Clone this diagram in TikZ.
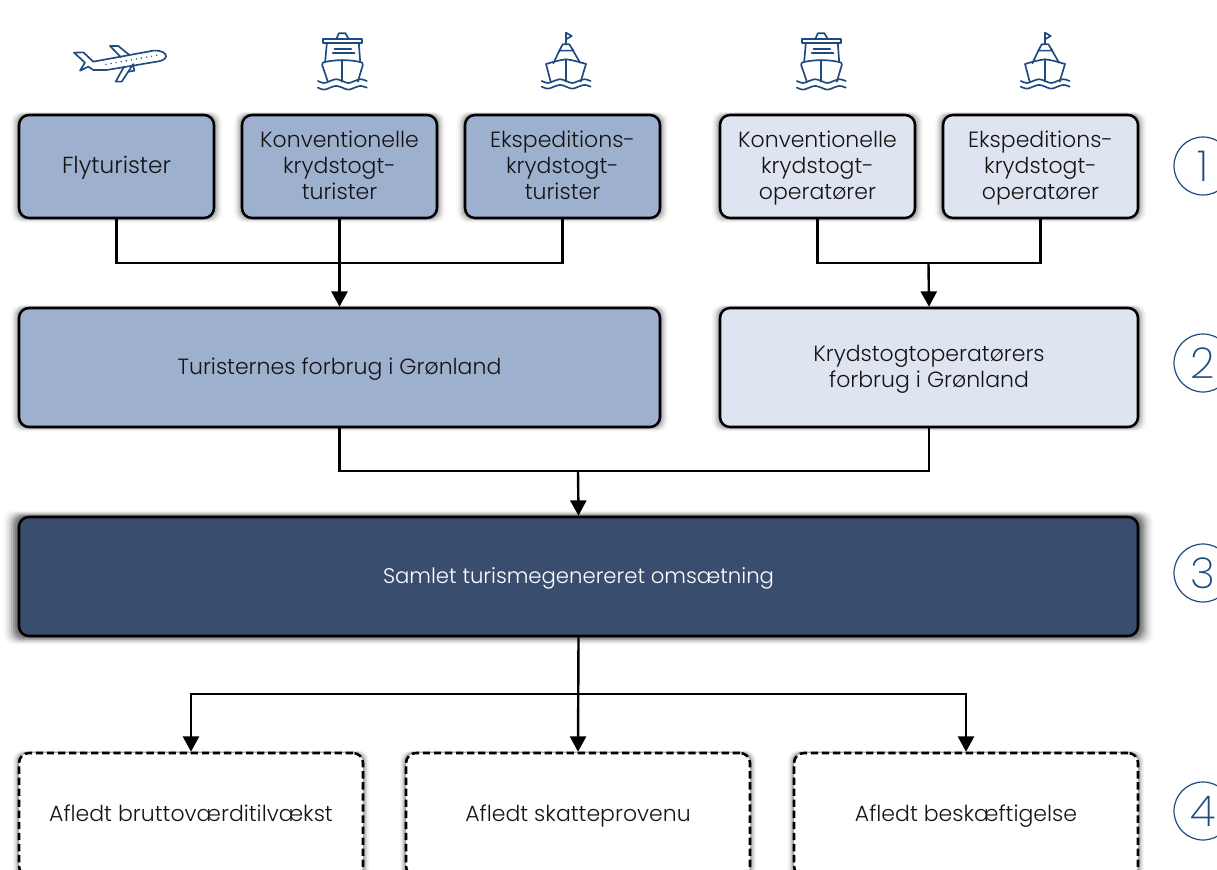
\documentclass[tikz,border=0pt]{standalone}
\usepackage{fontspec}
\setmainfont{Poppins Light}
\newfontfamily\digitfont{Poppins ExtraLight}
\usetikzlibrary{arrows.meta,calc}
\definecolor{midblue}{HTML}{9DB0CE}
\definecolor{paleblue}{HTML}{DFE5F0}
\definecolor{darkblue}{HTML}{394E6F}
\definecolor{iconblue}{HTML}{1F4A80}
\definecolor{inkc}{HTML}{141414}
\newcommand{\tl}[1]{\rule[-3.2pt]{0pt}{16.3pt}\smash{#1}}
\newcommand{\softshadow}[5]{%
  \pgfmathsetmacro{\ss}{#5<10?1.3:2.4}%
  \foreach \f/\a in {1/0.008,0.875/0.015,0.75/0.025,0.625/0.035,0.5/0.05,0.375/0.06,0.25/0.07,0.125/0.08}{%
    \pgfmathsetmacro{\oo}{\a*\ss}%
    \fill[black,opacity=\oo,rounded corners=7.5pt]
      ($(#1,#2)+({-\f*#5},{-\f*#5*0.4})$) rectangle ($(#3,#4)+({\f*#5},{\f*#5*0.55})$);}}
\tikzset{
  x=0.75pt,y=-0.75pt,
  basebox/.style={rounded corners=7.5pt,line width=1.9pt,draw=black,align=center,
     font=\fontsize{16.5}{19.5}\selectfont,text=inkc,inner sep=0pt},
  midbox/.style={basebox,fill=midblue},
  palebox/.style={basebox,fill=paleblue},
  darkbox/.style={basebox,fill=darkblue,text=white,font=\fontsize{15.9}{19.5}\selectfont},
  dashbox/.style={basebox,fill=white,dash pattern=on 5.5pt off 2.8pt},
  link/.style={line width=1.8pt,draw=black},
  arrowlink/.style={link,-{Triangle[length=11.5pt,width=12pt]}},
  icon/.style={draw=iconblue,line width=1.25pt,line join=round,line cap=round},
  stepnum/.style={circle,draw=iconblue,line width=0.9pt,minimum size=43.5pt,inner sep=0pt,text=iconblue,font=\digitfont\fontsize{32}{32}\selectfont},
}
\newcommand{\mybox}[8]{% name, style, x1,y1,x2,y2, shadow, text
  \softshadow{#3}{#4}{#5}{#6}{#7}
  \node[#2,minimum width=(#5-#3)*0.75pt,minimum height=(#6-#4)*0.75pt] (#1) at ({(#3+#5)/2},{(#4+#6)/2}) {#8};}
\newcommand{\wavepair}[4]{%
  \foreach \yy in {#3,#4}{%
   \draw (#1,\yy) .. controls ({#1+(#2-#1)/8},{\yy+8}) and ({#1+(#2-#1)/8},{\yy+8}) .. ({#1+(#2-#1)/4},\yy)
     .. controls ({#1+3*(#2-#1)/8},{\yy-7}) and ({#1+3*(#2-#1)/8},{\yy-7}) .. ({#1+(#2-#1)/2},\yy)
     .. controls ({#1+5*(#2-#1)/8},{\yy+8}) and ({#1+5*(#2-#1)/8},{\yy+8}) .. ({#1+3*(#2-#1)/4},\yy)
     .. controls ({#1+7*(#2-#1)/8},{\yy-7}) and ({#1+7*(#2-#1)/8},{\yy-7}) .. (#2,\yy);}}
\newcommand{\bigship}[1]{%
 \begin{scope}[shift={(#1,20)},x=0.25pt,y=-0.25pt,icon]
  \draw (860,58) -- (868,40) -- (888,40) -- (898,58);
  \draw (820,58) rectangle (938,70);
  \draw (832,70) -- (827,125) (928,70) -- (932,125);
  \draw (855,88) -- (905,88) (850,100) -- (915,100);
  \draw (835,185) -- (818,135) -- (820,128) .. controls (850,118) and (908,118) .. (938,128) -- (940,135) -- (925,185);
  \draw (878,120) -- (878,185);
  \wavepair{805}{952}{183}{203}
 \end{scope}}
\newcommand{\smallship}[1]{%
 \begin{scope}[shift={(#1,20)},x=0.25pt,y=-0.25pt,icon]
  \draw (138,72) -- (138,38) -- (155,48) -- (138,58);
  \draw (118,92) -- (128,73) -- (148,73) -- (160,92) -- cycle;
  \draw (120,88) -- (100,130) (157,88) -- (180,128);
  \draw (92,185) -- (78,132) .. controls (105,124) and (120,120) .. (138,118) .. controls (156,120) and (171,124) .. (198,132) -- (182,185);
  \draw (138,118) -- (138,185);
  \wavepair{65}{212}{183}{200}
 \end{scope}}
\begin{document}
\begin{tikzpicture}
\useasboundingbox (0,0) rectangle (1217,870);
\fill[white] (0,0) rectangle (1217,870);
% icons
\begin{scope}[shift={(50,20)},x=0.25pt,y=-0.25pt,icon]
  \draw (72,98) -- (100,97) -- (130,125) -- (310,92) .. controls (335,90) and (350,100) .. (348,110) .. controls (345,120) and (330,124) .. (320,125) -- (170,150) -- (130,150) -- (115,140) -- (90,152) -- (105,128) -- cycle;
  \draw (238,105) -- (205,78) -- (180,78) -- (212,111);
  \draw (222,140) -- (197,185) -- (215,185) -- (250,132);
  \draw (236,155) -- (253,152) -- (250,138);
  \foreach \i in {0,1,...,10}{\fill[iconblue,draw=none] ({168+\i*15.2},{133-\i*2.7}) circle (2.4);}
\end{scope}
\bigship{49.5}
\bigship{528.5}
\smallship{520}
\smallship{999}
% boxes
\mybox{fly}{midbox}{19}{115}{214}{218}{9}{\fontsize{17.4}{19.5}\selectfont\tl{Flyturister}}
\mybox{konv}{midbox}{242}{115}{437}{218}{9}{\tl{Konventionelle}\\\tl{krydstogt-}\\\tl{turister}}
\mybox{eksp}{midbox}{465}{115}{660}{218}{9}{\tl{Ekspeditions-}\\\tl{krydstogt-}\\\tl{turister}}
\mybox{konvop}{palebox}{720}{115}{915}{218}{9}{\tl{Konventionelle}\\\tl{krydstogt-}\\\tl{operatører}}
\mybox{ekspop}{palebox}{943}{115}{1138}{218}{9}{\tl{Ekspeditions-}\\\tl{krydstogt-}\\\tl{operatører}}
\mybox{turforbrug}{midbox}{19}{308}{660}{427}{9}{\tl{Turisternes forbrug i Grønland}}
\mybox{opforbrug}{palebox}{720}{308}{1138}{427}{9}{\tl{Krydstogtoperatørers}\\\tl{forbrug i Grønland}}
\mybox{samlet}{darkbox}{19}{517}{1138}{636}{16}{\tl{Samlet turismegenereret omsætning}}
\mybox{brutto}{dashbox}{19}{753}{363}{876}{7}{\tl{Afledt bruttoværditilvækst}}
\mybox{skat}{dashbox}{406}{753}{750}{876}{7}{\tl{Afledt skatteprovenu}}
\mybox{besk}{dashbox}{794}{753}{1138}{876}{7}{\tl{Afledt beskæftigelse}}
% connectors
\coordinate (j1) at (339,263);
\coordinate (j2) at (928.5,263);
\coordinate (j3) at (578,471);
\coordinate (j4) at (578,694);
\draw[link] (fly.south) |- (j1);
\draw[link] (eksp.south) |- (j1);
\draw[arrowlink] (konv.south) -- (turforbrug.north);
\draw[link] (konvop.south) |- (j2);
\draw[link] (ekspop.south) |- (j2);
\draw[arrowlink] (j2) -- (opforbrug.north);
\draw[link] (turforbrug.south) |- (j3);
\draw[link] (opforbrug.south) |- (j3);
\draw[arrowlink] (j3) -- (samlet.north);
\draw[arrowlink] (samlet.south) -- (skat.north);
\draw[arrowlink] (j4) -| (brutto.north);
\draw[arrowlink] (j4) -| (besk.north);
% step numbers
\node[stepnum] (s1) at (1203,166) {1};
\node[stepnum] (s2) at (1203,363) {2};
\node[stepnum] (s3) at (1203,573) {3};
\node[stepnum] (s4) at (1203,811) {4};
\end{tikzpicture}
\end{document}
